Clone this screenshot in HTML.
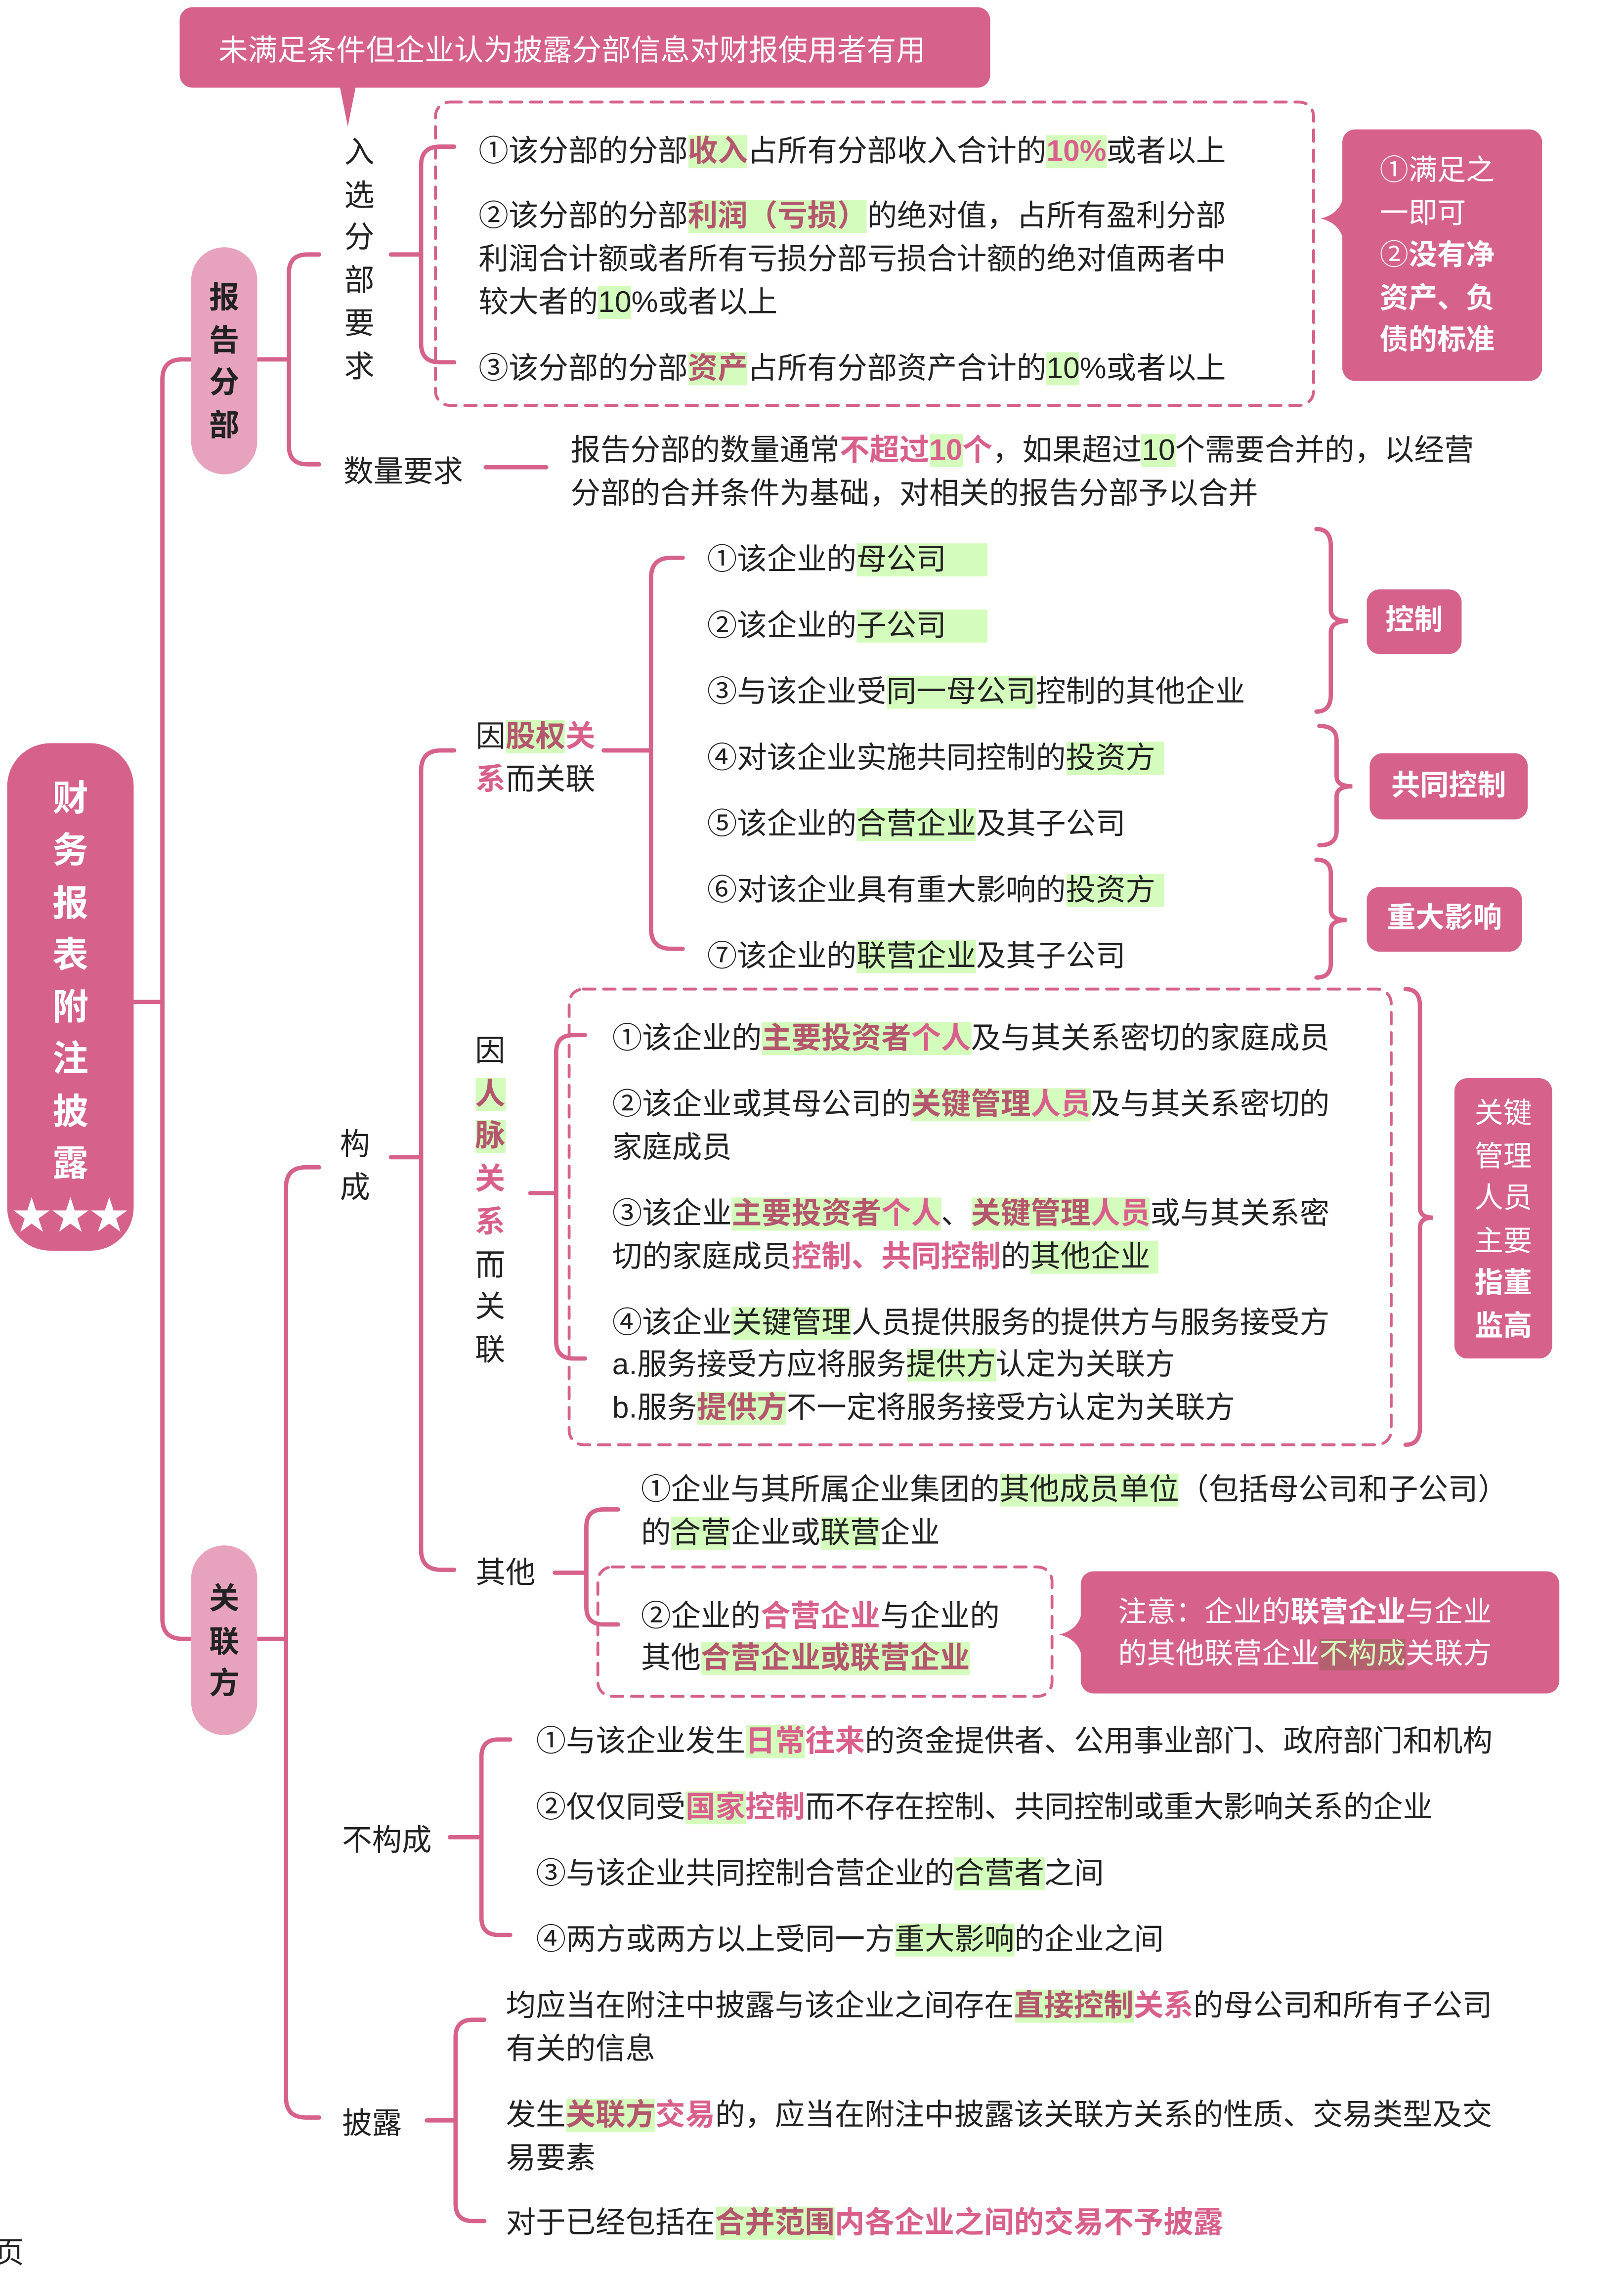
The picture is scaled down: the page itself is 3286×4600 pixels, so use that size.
<!DOCTYPE html>
<html><head><meta charset="utf-8"><style>
html,body{margin:0;padding:0;background:#fff;}
body{width:3286px;height:4562px;overflow:hidden;position:relative;}
#w{position:absolute;left:0;top:0;width:1130px;height:1569px;transform:scale(2.908);transform-origin:0 0;font-family:"Liberation Sans","Noto Sans CJK SC",sans-serif;color:#222;}
.t{position:absolute;white-space:nowrap;font-size:20.8px;line-height:29px;}
.h{background:#d4fcbc;}
.m{color:#b4566e;font-weight:bold;}
.p{color:#d9608c;font-weight:bold;}
.k{font-weight:bold;}
.box{position:absolute;background:#d6628c;border-radius:9px;}
.lbox{position:absolute;background:#e7a3be;border-radius:23px;}
.wt{position:absolute;color:#fff;font-size:20px;line-height:29.5px;white-space:nowrap;}
.v{position:absolute;font-size:21px;line-height:29.7px;text-align:center;width:30px;}
</style></head><body><div id="w">
<svg width="1130" height="1569" style="position:absolute;left:0;top:0" fill="none" stroke="#d6628c" stroke-width="3" stroke-linecap="round">
<path d="M236 58 L242 88 L248 58 Z" fill="#d6628c" stroke="none"/>
<path d="M93 697 H113"/>
<path d="M133 250 H127 Q113 250 113 264 V1126 Q113 1140 127 1140 H133"/>
<path d="M179 250 H201"/>
<path d="M222 177 H214 Q201 177 201 190 V310 Q201 323 214 323 H222"/>
<path d="M272 177 H293"/>
<path d="M316 102 H306 Q293 102 293 115 V239 Q293 252 306 252 H316"/>
<path d="M338 325 H380"/>
<path d="M179 1140 H199"/>
<path d="M222 812 H213 Q199 812 199 826 V1459 Q199 1473 213 1473 H222"/>
<path d="M272 805 H293"/>
<path d="M316 522 H307 Q293 522 293 536 V1078 Q293 1092 307 1092 H316"/>
<path d="M420 522 H453"/>
<path d="M475 388 H467 Q453 388 453 402 V646 Q453 660 467 660 H475"/>
<path d="M369 830 H387"/>
<path d="M407 720 H399 Q387 720 387 732 V933 Q387 945 399 945 H407"/>
<path d="M386 1094 H408"/>
<path d="M430 1050 H420 Q408 1050 408 1062 V1118 Q408 1130 420 1130 H430"/>
<path d="M313 1278 H335"/>
<path d="M355 1210 H347 Q335 1210 335 1222 V1334 Q335 1346 347 1346 H355"/>
<path d="M297 1475 H317"/>
<path d="M337 1405 H329 Q317 1405 317 1417 V1533 Q317 1545 329 1545 H337"/>
<rect x="303" y="71" width="611" height="211" rx="10" stroke-dasharray="8 6" stroke-width="2"/>
<rect x="396" y="688" width="572" height="317" rx="10" stroke-dasharray="8 6" stroke-width="2"/>
<rect x="416" y="1090" width="316" height="90" rx="10" stroke-dasharray="8 6" stroke-width="2"/>
<path d="M916 368 Q926 368 926 380 V424 Q926 432 938 432 Q926 432 926 440 V483 Q926 495 916 495"/>
<path d="M918 505 Q930 505 930 515 V540 Q930 547 941 547 Q930 547 930 554 V578 Q930 588 918 588"/>
<path d="M916 598 Q926 598 926 608 V633 Q926 640 937 640 Q926 640 926 647 V670 Q926 680 916 680"/>
<path d="M978 688 Q988 688 988 700 V840 Q988 847 997 847 Q988 847 988 854 V993 Q988 1005 978 1005"/>
</svg>

<div class="box" style="left:125px;top:5px;width:564px;height:56px;"></div>
<div class="wt" style="left:152px;top:21px;font-size:20.5px;">未满足条件但企业认为披露分部信息对财报使用者有用</div>

<div class="box" style="left:5px;top:517px;width:88px;height:353px;border-radius:30px;"></div>
<div class="wt" style="left:5px;top:538px;width:88px;text-align:center;font-size:25px;line-height:36.3px;font-weight:bold;">财<br>务<br>报<br>表<br>附<br>注<br>披<br>露</div>
<div class="wt" style="left:5px;top:830px;width:88px;text-align:center;font-size:27px;line-height:32px;">★★★</div>

<div class="lbox" style="left:133px;top:172px;width:46px;height:158px;"></div>
<div class="v k" style="left:141px;top:193px;">报<br>告<br>分<br>部</div>
<div class="v" style="left:235px;top:92px;">入<br>选<br>分<br>部<br>要<br>求</div>

<div class="t" style="left:333px;top:91px;">①该分部的分部<span class="h m">收入</span>占所有分部收入合计的<span class="h p">10%</span>或者以上</div>
<div class="t" style="left:333px;top:136px;">②该分部的分部<span class="h m">利润（亏损）</span>的绝对值，占所有盈利分部</div>
<div class="t" style="left:333px;top:166px;">利润合计额或者所有亏损分部亏损合计额的绝对值两者中</div>
<div class="t" style="left:333px;top:196px;">较大者的<span class="h">10</span>%或者以上</div>
<div class="t" style="left:333px;top:242px;">③该分部的分部<span class="h m">资产</span>占所有分部资产合计的<span class="h">10</span>%或者以上</div>

<div class="box" style="left:934px;top:90px;width:139px;height:175px;"></div>
<div class="wt" style="left:960px;top:105px;">①满足之<br>一即可<br>②<b>没有净<br>资产、负<br>债的标准</b></div>

<div class="t" style="left:239px;top:314px;">数量要求</div>
<div class="t" style="left:397px;top:299px;">报告分部的数量通常<span class="p">不超过<span class="h">10</span>个</span>，如果超过<span class="h">10</span>个需要合并的，以经营</div>
<div class="t" style="left:397px;top:329px;">分部的合并条件为基础，对相关的报告分部予以合并</div>

<div class="lbox" style="left:133px;top:1075px;width:46px;height:132px;"></div>
<div class="v k" style="left:141px;top:1098px;">关<br>联<br>方</div>
<div class="v" style="left:232px;top:782px;">构<br>成</div>

<div class="t" style="left:331px;top:498px;">因<span class="h m">股权</span><span class="p">关</span></div>
<div class="t" style="left:331px;top:528px;"><span class="p">系</span>而关联</div>

<div class="t" style="left:492px;top:375px;">①该企业的<span class="h">母公司&nbsp;&nbsp;&nbsp;&nbsp;&nbsp;</span></div>
<div class="t" style="left:492px;top:421px;">②该企业的<span class="h">子公司&nbsp;&nbsp;&nbsp;&nbsp;&nbsp;</span></div>
<div class="t" style="left:492px;top:467px;">③与该企业受<span class="h">同一母公司</span>控制的其他企业</div>
<div class="t" style="left:492px;top:513px;">④对该企业实施共同控制的<span class="h">投资方&nbsp;</span></div>
<div class="t" style="left:492px;top:559px;">⑤该企业的<span class="h">合营企业</span>及其子公司</div>
<div class="t" style="left:492px;top:605px;">⑥对该企业具有重大影响的<span class="h">投资方&nbsp;</span></div>
<div class="t" style="left:492px;top:651px;">⑦该企业的<span class="h">联营企业</span>及其子公司</div>

<div class="box" style="left:951px;top:410px;width:66px;height:45px;"></div>
<div class="wt k" style="left:951px;top:418px;width:66px;text-align:center;">控制</div>
<div class="box" style="left:953px;top:524px;width:110px;height:46px;"></div>
<div class="wt k" style="left:953px;top:533px;width:110px;text-align:center;">共同控制</div>
<div class="box" style="left:951px;top:617px;width:108px;height:45px;"></div>
<div class="wt k" style="left:951px;top:625px;width:108px;text-align:center;">重大影响</div>

<div class="v" style="left:326px;top:717px;">因<br><span class="h m">人<br>脉</span><br><span class="p">关<br>系</span><br>而<br>关<br>联</div>

<div class="t" style="left:426px;top:708px;">①该企业的<span class="h"><span class="m">主要投资者</span><span class="p">个人</span></span>及与其关系密切的家庭成员</div>
<div class="t" style="left:426px;top:754px;">②该企业或其母公司的<span class="h"><span class="m">关键管理</span><span class="p">人员</span></span>及与其关系密切的</div>
<div class="t" style="left:426px;top:784px;">家庭成员</div>
<div class="t" style="left:426px;top:830px;">③该企业<span class="h"><span class="m">主要投资者</span><span class="p">个人</span></span>、<span class="h"><span class="m">关键管理</span><span class="p">人员</span></span>或与其关系密</div>
<div class="t" style="left:426px;top:860px;">切的家庭成员<span class="p">控制、共同控制</span>的<span class="h">其他企业&nbsp;</span></div>
<div class="t" style="left:426px;top:906px;">④该企业<span class="h">关键管理</span>人员提供服务的提供方与服务接受方</div>
<div class="t" style="left:426px;top:935px;">a.服务接受方应将服务<span class="h">提供方</span>认定为关联方</div>
<div class="t" style="left:426px;top:965px;">b.服务<span class="h m">提供方</span>不一定将服务接受方认定为关联方</div>

<div class="box" style="left:1012px;top:750px;width:68px;height:195px;"></div>
<div class="wt" style="left:1012px;top:761px;width:68px;text-align:center;">关键<br>管理<br>人员<br>主要<br><b>指董<br>监高</b></div>

<div class="t" style="left:331px;top:1080px;">其他</div>
<div class="t" style="left:446px;top:1022px;">①企业与其所属企业集团的<span class="h">其他成员单位</span>（包括母公司和子公司）</div>
<div class="t" style="left:446px;top:1052px;">的<span class="h">合营</span>企业或<span class="h">联营</span>企业</div>
<div class="t" style="left:446px;top:1110px;">②企业的<span class="p">合营企业</span>与企业的</div>
<div class="t" style="left:446px;top:1139px;">其他<span class="h m">合营企业或联营企业</span></div>

<div class="box" style="left:752px;top:1093px;width:333px;height:85px;"></div>
<svg width="20" height="40" style="position:absolute;left:735px;top:1117px"><path d="M18 0 Q18 16 2 20 Q18 24 18 40 Z" fill="#d6628c"/></svg>
<svg width="20" height="40" style="position:absolute;left:917px;top:132px"><path d="M18 0 Q18 16 2 20 Q18 24 18 40 Z" fill="#d6628c"/></svg>
<div class="wt" style="left:778px;top:1108px;">注意：企业的<b>联营企业</b>与企业</div>
<div class="wt" style="left:778px;top:1137px;">的其他联营企业<span style="background:#b5606e;color:#d4fcbc;">不构成</span>关联方</div>

<div class="t" style="left:238px;top:1266px;">不构成</div>
<div class="t" style="left:373px;top:1197px;">①与该企业发生<span class="p"><span class="h">日常</span>往来</span>的资金提供者、公用事业部门、政府部门和机构</div>
<div class="t" style="left:373px;top:1243px;">②仅仅同受<span class="p"><span class="h">国家</span>控制</span>而不存在控制、共同控制或重大影响关系的企业</div>
<div class="t" style="left:373px;top:1289px;">③与该企业共同控制合营企业的<span class="h">合营者</span>之间</div>
<div class="t" style="left:373px;top:1335px;">④两方或两方以上受同一方<span class="h">重大影响</span>的企业之间</div>

<div class="t" style="left:238px;top:1463px;">披露</div>
<div class="t" style="left:352px;top:1381px;">均应当在附注中披露与该企业之间存在<span class="h m">直接控制</span><span class="p">关系</span>的母公司和所有子公司</div>
<div class="t" style="left:352px;top:1411px;">有关的信息</div>
<div class="t" style="left:352px;top:1457px;">发生<span class="h m">关联方</span><span class="p">交易</span>的，应当在附注中披露该关联方关系的性质、交易类型及交</div>
<div class="t" style="left:352px;top:1487px;">易要素</div>
<div class="t" style="left:352px;top:1532px;">对于已经包括在<span class="h m">合并范围</span><span class="p">内各企业之间的交易不予披露</span></div>

<div class="t" style="left:-4px;top:1553px;">页</div>
</div></body></html>
